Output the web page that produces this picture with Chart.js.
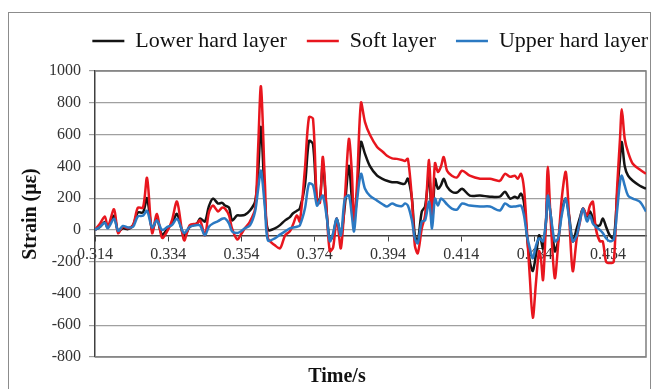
<!DOCTYPE html>
<html>
<head>
<meta charset="utf-8">
<script src="https://cdn.jsdelivr.net/npm/chart.js@4.4.1/dist/chart.umd.min.js"></script>
<style>
    html, body { margin: 0; padding: 0; background: #fff; }
    #wrap { position: relative; width: 651px; height: 389px; overflow: hidden; }
    #frame { position: absolute; left: 8px; top: 12px; width: 641px; height: 400px; border: 1px solid #8c8c8c; }
    #chart { position: absolute; left: 0; top: 0; }
</style>
</head>
<body>
<div id="wrap">
    <div id="frame"></div>
    <canvas id="chart" width="651" height="389"></canvas>
</div>
<script>
// time (s)
const times = [
    0.3140, 0.3154, 0.3167, 0.3175, 0.3192, 0.3203, 0.3216, 0.3230, 0.3244, 0.3257,
    0.3271, 0.3282, 0.3296, 0.3309, 0.3323, 0.3339, 0.3350, 0.3364, 0.3383, 0.3399,
    0.3418, 0.3427, 0.3440, 0.3451, 0.3462, 0.3476, 0.3487, 0.3495, 0.3506, 0.3514,
    0.3528, 0.3538, 0.3549, 0.3563, 0.3577, 0.3585, 0.3593, 0.3604, 0.3612, 0.3631,
    0.3645, 0.3659, 0.3672, 0.3680, 0.3691, 0.3699, 0.3713, 0.3724, 0.3735, 0.3746,
    0.3754, 0.3762, 0.3773, 0.3781, 0.3790, 0.3800, 0.3811, 0.3822, 0.3833, 0.3841,
    0.3847, 0.3855, 0.3866, 0.3877, 0.3890, 0.3910, 0.3926, 0.3937, 0.3951, 0.3964,
    0.3978, 0.3986, 0.3994, 0.4005, 0.4013, 0.4021, 0.4032, 0.4041, 0.4052, 0.4060,
    0.4068, 0.4076, 0.4084, 0.4092, 0.4101, 0.4114, 0.4128, 0.4142, 0.4163, 0.4191,
    0.4218, 0.4245, 0.4259, 0.4273, 0.4286, 0.4294, 0.4303, 0.4311, 0.4319, 0.4327,
    0.4335, 0.4344, 0.4352, 0.4357, 0.4363, 0.4371, 0.4376, 0.4384, 0.4395, 0.4404,
    0.4414, 0.4425, 0.4434, 0.4444, 0.4455, 0.4464, 0.4472, 0.4483, 0.4491, 0.4499,
    0.4507, 0.4518, 0.4526, 0.4535, 0.4545, 0.4556, 0.4565, 0.4573, 0.4578, 0.4586,
    0.4595, 0.4608, 0.4627, 0.4644
];

const lowerHard = [
    0, 20, 50, 15, 90, -10, 10, 5, 30, 110,
    110, 200, 0, 70, -30, 10, 40, 100, -40, 20,
    40, 72, 53, 150, 197, 166, 170, 153, 140, 60,
    91, 90, 95, 122, 178, 350, 647, 178, 0, 9,
    30, 60, 80, 103, 120, 134, 280, 559, 540, 178,
    200, 416, 91, -66, -30, 72, -34, 153, 403, 197,
    53, 216, 553, 478, 403, 341, 320, 309, 300, 300,
    290, 291, 322, 197, -34, -72, 116, 147, 341, 53,
    320, 260, 280, 322, 272, 240, 235, 259, 216, 216,
    209, 209, 240, 197, 209, 200, 228, 170, -34, -200,
    -259, -150, -34, -60, -116, 53, 216, 91, -134, -72,
    116, 197, 91, -72, 9, 80, 134, 84, 116, 72,
    30, 28, 72, 20, -34, -53, 216, 450, 553, 400,
    341, 309, 278, 259
];

const softLayer = [
    0, 40, 84, 20, 130, -20, 20, 10, 30, 140,
    140, 327, -20, 100, -50, 0, 60, 178, -65, 30,
    40, 60, -34, 110, 153, 116, 140, 134, 90, 9,
    -60, -30, 10, 53, 134, 500, 903, 280, -53, -97,
    -116, -34, -9, 30, 91, 53, 384, 709, 700, 178,
    170, 459, 91, -134, -110, 72, -116, 197, 572, 365,
    53, 280, 800, 678, 600, 522, 490, 466, 450, 447,
    440, 434, 447, 197, -97, -147, 9, 91, 440, 72,
    420, 365, 397, 459, 372, 341, 330, 372, 341, 322,
    322, 309, 353, 334, 341, 322, 353, 259, -9, -303,
    -553, -322, -134, -178, -315, 53, 397, 53, -303, -97,
    197, 365, 91, -259, -53, 53, 134, 91, 153, 178,
    9, -72, -72, -200, -209, -200, 259, 572, 759, 572,
    490, 416, 380, 353
];

const upperHard = [
    0, 20, 45, 10, 70, -5, 25, 15, 20, 85,
    90, 120, 15, 60, 0, 20, 30, 70, -20, 20,
    30, 28, -34, 20, 40, 55, 70, 72, 40, -9,
    -20, -10, 10, 28, 116, 250, 372, 134, -66, -53,
    -30, -9, 9, 15, 20, 28, 134, 291, 280, 153,
    190, 216, 72, -72, -20, 72, -34, 197, 216, 91,
    -9, 178, 353, 259, 216, 184, 160, 147, 166, 153,
    150, 166, 153, 60, -53, -84, 53, 60, 178, 9,
    197, 153, 197, 184, 160, 134, 128, 166, 153, 147,
    147, 122, 166, 147, 147, 150, 153, 91, -34, -116,
    -178, -97, -53, -60, -72, 53, 216, 91, -72, -53,
    91, 197, 72, -72, -34, 60, 134, 53, 91, 40,
    20, 0, -20, -53, -72, -60, 116, 300, 341, 278,
    216, 197, 178, 116
];

const seriesNames = ['Lower hard layer', 'Soft layer', 'Upper hard layer'];
const xTickValues = [0.314, 0.334, 0.354, 0.374, 0.394, 0.414, 0.434, 0.454];
const yTickMin = -800;
const yTickMax = 1000;
const yTickStep = 200;
const xAxisCross = -40;

const serif = "'Liberation Serif', 'Times New Roman', serif";

function toPoints(values) {
    return values.map((v, i) => ({ x: times[i], y: v }));
}

function lineSet(label, values, color, order) {
    return {
        label,
        data: toPoints(values),
        borderColor: color,
        backgroundColor: color,
        borderWidth: 2.5,
        pointRadius: 0,
        tension: 0.3,
        order
    };
}

// right / top / bottom frame of the plot area
const plotFrame = {
    id: 'plotFrame',
    beforeDatasetsDraw(chart) {
        const { ctx, chartArea } = chart;
        ctx.save();
        ctx.strokeStyle = '#7f7f7f';
        ctx.lineWidth = 1.5;
        ctx.beginPath();
        ctx.moveTo(chartArea.left, chartArea.top);
        ctx.lineTo(chartArea.right, chartArea.top);
        ctx.lineTo(chartArea.right, chartArea.bottom);
        ctx.lineTo(chartArea.left, chartArea.bottom);
        ctx.stroke();
        ctx.restore();
    }
};

// extra room under the legend, and nudge legend / x title to the right
const boxTweaks = {
    id: 'boxTweaks',
    beforeInit(chart) {
        const fit = chart.legend.fit;
        chart.legend.fit = function () {
            fit.bind(chart.legend)();
            this.height += 9;
        };
    },
    afterLayout(chart) {
        chart.legend.left += 22;
        chart.legend.right += 22;
        chart.titleBlock.left += 8;
        chart.titleBlock.right += 8;
    }
};

new Chart(document.getElementById('chart').getContext('2d'), {
    type: 'line',
    data: {
        datasets: [
            lineSet(seriesNames[0], lowerHard, '#141414', 3),
            lineSet(seriesNames[1], softLayer, '#e8161e', 2),
            lineSet(seriesNames[2], upperHard, '#2b79c2', 1)
        ]
    },
    options: {
        responsive: false,
        animation: false,
        layout: { padding: { left: 12, right: 5, top: 10, bottom: 0 } },
        plugins: {
            legend: {
                position: 'top',
                align: 'end',
                labels: {
                    usePointStyle: true,
                    pointStyle: 'line',
                    pointStyleWidth: 32,
                    padding: 20,
                    color: '#111',
                    font: { family: serif, size: 22 },
                    sort: (a, b) => a.datasetIndex - b.datasetIndex
                }
            },
            title: {
                display: true,
                position: 'bottom',
                text: 'Time/s',
                color: '#111',
                font: { family: serif, size: 20, weight: 'bold' },
                padding: { top: 8, bottom: 0 }
            },
            tooltip: { enabled: false }
        },
        scales: {
            x: {
                type: 'linear',
                position: { y: xAxisCross },
                min: 0.314,
                max: 0.4644,
                afterBuildTicks(scale) {
                    scale.ticks = xTickValues.map((v) => ({ value: v }));
                },
                grid: { drawOnChartArea: false, drawTicks: true, tickLength: 5, color: '#404040' },
                border: { display: true, color: '#404040', width: 1.5 },
                ticks: {
                    autoSkip: false,
                    maxRotation: 0,
                    padding: 4,
                    color: '#333',
                    font: { family: serif, size: 16 },
                    callback: (v) => Number(v).toFixed(3)
                }
            },
            y: {
                min: yTickMin,
                max: yTickMax,
                afterFit(scale) { scale.width = 83; },
                ticks: {
                    stepSize: yTickStep,
                    padding: 8,
                    color: '#333',
                    font: { family: serif, size: 16 },
                    callback: (v) => String(v)
                },
                grid: { color: '#a0a0a0', lineWidth: 1.2, tickLength: 6 },
                border: { display: true, color: '#404040', width: 1.5 },
                title: {
                    display: true,
                    text: 'Strain (με)',
                    color: '#111',
                    font: { family: serif, size: 20, weight: 'bold' },
                    padding: { top: 7, bottom: 0 }
                }
            }
        }
    },
    plugins: [plotFrame, boxTweaks]
});
</script>
</body>
</html>
